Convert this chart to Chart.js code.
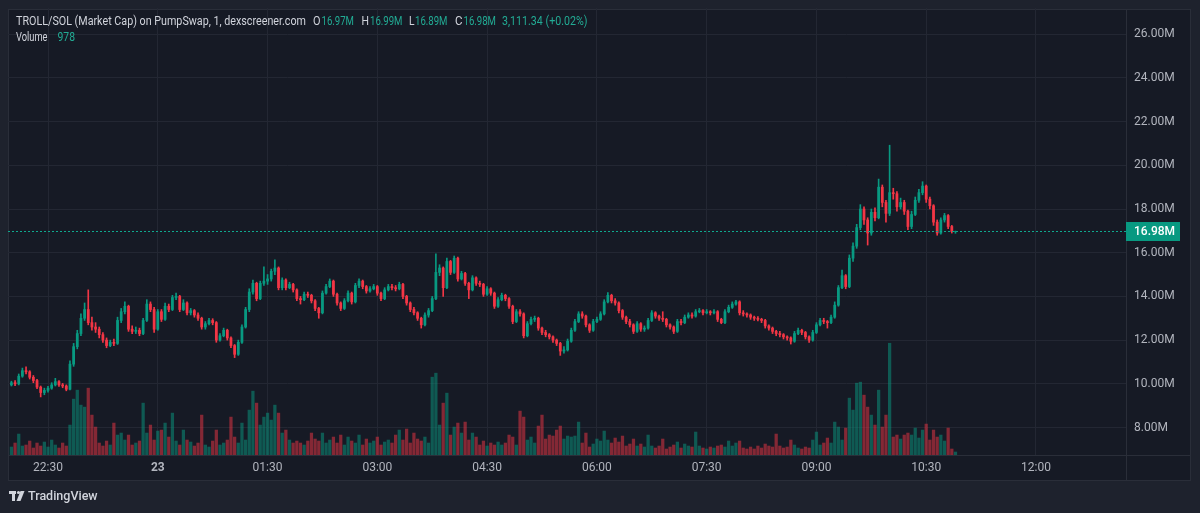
<!DOCTYPE html>
<html>
<head>
<meta charset="utf-8">
<script src="https://cdn.jsdelivr.net/npm/chart.js@4.4.1/dist/chart.umd.min.js"></script>
<style>
  html, body { margin: 0; padding: 0; background: #1e222d; }
  #wrap { width: 1200px; height: 513px; }
</style>
</head>
<body>
<div id="wrap"><canvas id="chart" width="1200" height="513"></canvas></div>
<script>
// TROLL/SOL market cap (millions), candles every 3 minutes from 22:00
const startMinute = 0;      // minutes after 22:00
const candleMinutes = 3;

const opens = [
  9.95, 10.05, 10.0, 10.35, 10.6, 10.55, 10.3, 10.15, 9.85, 9.6,
  9.7, 9.8, 9.95, 10.1, 9.95, 9.9, 9.75, 10.9, 11.7, 12.3,
  13.0, 13.4, 12.8, 12.6, 12.5, 12.25, 12.0, 11.75, 11.9, 11.85,
  12.9, 13.3, 13.55, 12.5, 12.4, 12.45, 12.3, 12.9, 13.65, 13.4,
  12.5, 13.3, 12.95, 13.55, 13.4, 13.95, 14.0, 13.4, 13.7, 13.25,
  13.35, 13.15, 13.0, 12.6, 12.75, 12.9, 12.8, 12.0, 12.2, 12.45,
  12.1, 11.75, 11.35, 11.9, 12.6, 13.4, 14.2, 14.6, 13.9, 14.6,
  14.7, 14.8, 15.15, 15.3, 14.4, 14.75, 14.4, 14.55, 14.3, 13.9,
  13.85, 14.1, 14.05, 13.8, 13.45, 13.25, 14.15, 14.45, 14.7, 14.1,
  13.7, 13.45, 13.8, 14.15, 13.75, 14.5, 14.7, 14.45, 14.25, 14.35,
  14.45, 14.15, 13.9, 14.3, 14.45, 14.4, 14.35, 14.55, 14.0, 13.7,
  13.4, 13.25, 13.0, 12.7, 13.15, 13.35, 13.9, 15.1, 15.3, 14.4,
  15.6, 15.1, 15.75, 14.8, 15.05, 14.6, 14.3, 14.85, 14.6, 14.55,
  14.1, 14.35, 14.15, 13.55, 13.85, 14.05, 13.9, 13.55, 12.85, 13.3,
  13.2, 12.2, 12.75, 12.95, 13.0, 12.55, 12.35, 12.25, 12.15, 12.0,
  11.85, 11.5, 11.55, 11.95, 12.45, 12.85, 13.2, 13.1, 12.7, 12.45,
  12.85, 12.95, 13.2, 13.75, 14.05, 13.8, 13.7, 13.35, 13.05, 12.85,
  12.7, 12.4, 12.75, 12.5, 12.55, 12.9, 13.25, 13.1, 13.0, 12.95,
  12.7, 12.6, 12.4, 12.85, 12.8, 13.05, 13.15, 13.1, 13.3, 13.35,
  13.25, 13.3, 13.25, 13.3, 12.95, 12.8, 13.3, 13.5, 13.65, 13.75,
  13.25, 13.2, 13.15, 13.05, 13.0, 12.95, 12.9, 12.65, 12.55, 12.4,
  12.3, 12.25, 12.15, 12.1, 11.95, 12.3, 12.45, 12.35, 12.15, 12.0,
  12.35, 12.7, 12.9, 12.85, 12.8, 13.05, 13.6, 14.4, 14.95, 14.45,
  15.75, 16.3, 17.15, 18.0, 17.5, 16.9, 17.85, 17.6, 19.0, 18.3,
  17.8, 18.75, 18.7, 18.1, 18.3, 17.9, 17.2, 17.75, 18.4, 18.75,
  19.05, 18.45, 18.15, 17.4, 16.9, 17.5, 17.7, 17.2, 16.97
];

const highs = [
  10.12, 10.15, 10.45, 10.72, 10.78, 10.6, 10.38, 10.2, 9.9, 9.8,
  9.88, 10.05, 10.25, 10.15, 10.02, 9.95, 11.05, 11.85, 12.45, 13.2,
  13.7, 14.3, 13.05, 12.8, 12.6, 12.35, 12.1, 12.0, 12.05, 13.05,
  13.45, 13.75, 13.6, 12.65, 12.6, 12.55, 13.0, 13.85, 13.75, 13.5,
  13.4, 13.4, 13.7, 13.65, 14.05, 14.15, 14.05, 13.85, 13.75, 13.45,
  13.4, 13.25, 13.05, 12.85, 13.0, 12.98, 12.85, 12.3, 12.55, 12.5,
  12.15, 11.8, 12.0, 12.7, 13.5, 14.35, 14.75, 14.65, 14.7, 15.35,
  15.0, 15.25, 15.67, 15.35, 14.85, 14.8, 14.65, 14.6, 14.35, 14.0,
  14.2, 14.2, 14.1, 13.85, 13.5, 14.25, 14.55, 14.8, 14.75, 14.15,
  13.75, 13.9, 14.25, 14.2, 14.6, 14.8, 14.75, 14.5, 14.45, 14.55,
  14.5, 14.2, 14.4, 14.55, 14.55, 14.5, 14.65, 14.6, 14.05, 13.75,
  13.5, 13.3, 13.05, 13.25, 13.45, 14.0, 15.95, 15.45, 15.35, 15.75,
  15.65, 15.85, 15.8, 15.15, 15.1, 14.65, 14.95, 14.9, 14.7, 14.6,
  14.45, 14.4, 14.2, 13.95, 14.15, 14.1, 13.95, 13.6, 13.4, 13.4,
  13.25, 12.85, 13.05, 13.1, 13.05, 12.6, 12.45, 12.3, 12.2, 12.05,
  11.9, 11.7, 12.05, 12.55, 12.95, 13.3, 13.3, 13.15, 12.75, 12.95,
  13.05, 13.3, 13.85, 14.17, 14.1, 13.9, 13.75, 13.4, 13.1, 12.95,
  12.75, 12.85, 12.8, 12.65, 13.0, 13.35, 13.3, 13.15, 13.3, 13.0,
  12.75, 12.65, 12.95, 12.95, 13.15, 13.25, 13.25, 13.4, 13.45, 13.4,
  13.4, 13.35, 13.4, 13.35, 13.0, 13.4, 13.6, 13.75, 13.82, 13.8,
  13.35, 13.25, 13.2, 13.1, 13.08, 13.0, 12.95, 12.7, 12.6, 12.45,
  12.4, 12.3, 12.2, 12.15, 12.4, 12.55, 12.5, 12.4, 12.2, 12.45,
  12.8, 13.0, 13.0, 12.9, 13.15, 13.75, 14.5, 15.2, 15.0, 15.9,
  16.45, 17.3, 18.2, 18.1, 17.6, 18.0, 18.05, 19.37, 19.1, 18.4,
  20.92, 18.95, 18.8, 18.5, 18.4, 17.95, 17.9, 18.55, 18.9, 19.25,
  19.1, 18.55, 18.2, 17.5, 17.6, 17.8, 17.75, 17.25, 16.99
];

const lows = [
  9.9, 9.92, 9.95, 10.3, 10.45, 10.22, 10.05, 9.78, 9.4, 9.5,
  9.62, 9.75, 9.9, 9.88, 9.82, 9.68, 9.72, 10.8, 11.6, 12.2,
  12.9, 12.7, 12.45, 12.35, 12.1, 11.9, 11.65, 11.7, 11.75, 11.8,
  12.8, 13.2, 12.4, 12.3, 12.3, 12.2, 12.25, 12.85, 13.3, 12.35,
  12.45, 12.85, 12.9, 13.3, 13.35, 13.85, 13.3, 13.35, 13.15, 13.15,
  13.05, 12.9, 12.5, 12.5, 12.7, 12.7, 11.9, 11.95, 12.15, 12.0,
  11.65, 11.2, 11.3, 11.85, 12.55, 13.3, 14.1, 13.8, 13.85, 14.5,
  14.55, 14.7, 15.0, 14.3, 14.3, 14.3, 14.35, 14.2, 13.8, 13.65,
  13.8, 13.95, 13.7, 13.35, 13.0, 13.2, 14.1, 14.4, 14.0, 13.6,
  13.35, 13.4, 13.75, 13.65, 13.7, 14.4, 14.35, 14.15, 14.2, 14.3,
  14.05, 13.8, 13.85, 14.25, 14.3, 14.25, 14.3, 13.9, 13.6, 13.3,
  13.15, 12.9, 12.55, 12.65, 13.05, 13.3, 13.85, 14.95, 14.0, 14.35,
  15.0, 15.05, 14.7, 14.75, 14.5, 13.9, 14.25, 14.5, 14.45, 14.0,
  14.05, 14.05, 13.45, 13.5, 13.8, 13.8, 13.45, 12.75, 12.8, 13.1,
  12.1, 12.15, 12.7, 12.85, 12.45, 12.25, 12.15, 12.05, 11.9, 11.75,
  11.3, 11.4, 11.5, 11.9, 12.4, 12.8, 13.0, 12.6, 12.35, 12.4,
  12.8, 12.9, 13.15, 13.7, 13.7, 13.6, 13.25, 12.95, 12.75, 12.6,
  12.3, 12.35, 12.4, 12.4, 12.5, 12.85, 13.0, 12.9, 12.85, 12.6,
  12.5, 12.3, 12.35, 12.7, 12.75, 13.0, 13.0, 13.05, 13.25, 13.15,
  13.2, 13.15, 13.2, 12.85, 12.75, 12.75, 13.25, 13.45, 13.6, 13.15,
  13.1, 13.05, 12.95, 12.9, 12.88, 12.8, 12.55, 12.45, 12.3, 12.2,
  12.15, 12.05, 12.0, 11.82, 11.9, 12.25, 12.25, 12.05, 11.9, 11.95,
  12.3, 12.65, 12.75, 12.55, 12.75, 13.0, 13.55, 14.35, 14.35, 14.4,
  15.6, 16.2, 17.05, 17.3, 16.35, 16.8, 17.45, 17.55, 18.1, 17.4,
  17.7, 18.45, 17.9, 18.0, 17.75, 17.05, 17.1, 17.7, 18.3, 18.65,
  18.3, 18.0, 17.25, 16.8, 16.85, 17.4, 17.1, 16.9, 16.89
];

const closes = [
  10.05, 10.0, 10.35, 10.6, 10.55, 10.3, 10.15, 9.85, 9.6, 9.7,
  9.8, 9.95, 10.1, 9.95, 9.9, 9.75, 10.9, 11.7, 12.3, 13.0,
  13.4, 12.8, 12.6, 12.5, 12.25, 12.0, 11.75, 11.9, 11.85, 12.9,
  13.3, 13.55, 12.5, 12.4, 12.45, 12.3, 12.9, 13.65, 13.4, 12.5,
  13.3, 12.95, 13.55, 13.4, 13.95, 14.0, 13.4, 13.7, 13.25, 13.35,
  13.15, 13.0, 12.6, 12.75, 12.9, 12.8, 12.0, 12.2, 12.45, 12.1,
  11.75, 11.35, 11.9, 12.6, 13.4, 14.2, 14.6, 13.9, 14.6, 14.7,
  14.8, 15.15, 15.3, 14.4, 14.75, 14.4, 14.55, 14.3, 13.9, 13.85,
  14.1, 14.05, 13.8, 13.45, 13.25, 14.15, 14.45, 14.7, 14.1, 13.7,
  13.45, 13.8, 14.15, 13.75, 14.5, 14.7, 14.45, 14.25, 14.35, 14.45,
  14.15, 13.9, 14.3, 14.45, 14.4, 14.35, 14.55, 14.0, 13.7, 13.4,
  13.25, 13.0, 12.7, 13.15, 13.35, 13.9, 15.1, 15.3, 14.4, 15.6,
  15.1, 15.75, 14.8, 15.05, 14.6, 14.3, 14.85, 14.6, 14.55, 14.1,
  14.35, 14.15, 13.55, 13.85, 14.05, 13.9, 13.55, 12.85, 13.3, 13.2,
  12.2, 12.75, 12.95, 13.0, 12.55, 12.35, 12.25, 12.15, 12.0, 11.85,
  11.5, 11.55, 11.95, 12.45, 12.85, 13.2, 13.1, 12.7, 12.45, 12.85,
  12.95, 13.2, 13.75, 14.05, 13.8, 13.7, 13.35, 13.05, 12.85, 12.7,
  12.4, 12.75, 12.5, 12.55, 12.9, 13.25, 13.1, 13.0, 12.95, 12.7,
  12.6, 12.4, 12.85, 12.8, 13.05, 13.15, 13.1, 13.3, 13.35, 13.25,
  13.3, 13.25, 13.3, 12.95, 12.8, 13.3, 13.5, 13.65, 13.75, 13.25,
  13.2, 13.15, 13.05, 13.0, 12.95, 12.9, 12.65, 12.55, 12.4, 12.3,
  12.25, 12.15, 12.1, 11.95, 12.3, 12.45, 12.35, 12.15, 12.0, 12.35,
  12.7, 12.9, 12.85, 12.8, 13.05, 13.6, 14.4, 14.95, 14.45, 15.75,
  16.3, 17.15, 18.0, 17.5, 16.9, 17.85, 17.6, 19.0, 18.3, 17.8,
  18.75, 18.7, 18.1, 18.3, 17.9, 17.2, 17.75, 18.4, 18.75, 19.05,
  18.45, 18.15, 17.4, 16.9, 17.5, 17.7, 17.2, 16.97, 16.98
];

// volume per candle, thousands
const volumes = [
  4, 6, 10.5, 4.5, 5, 7, 3.5, 6, 4.5, 6.5, 4, 7.5, 5, 3.5, 6, 4.5,
  15, 28, 32.5, 25, 24, 33.5, 20, 14,
  6, 4.5, 7, 5, 16, 10, 11, 7.5, 10, 5, 6, 7,
  26, 11, 15, 7.5, 12, 12.5, 16, 9, 21, 7, 5, 12.5,
  7.5, 6.5, 4.5, 6, 20, 5, 4, 7, 12.5, 5, 6, 7.5,
  19, 9, 6, 16, 7.5, 22.5, 32, 26, 15, 19, 21, 17.5, 25, 21,
  11, 12.5, 7.5, 6, 7, 6, 5, 7, 11, 8, 7, 11, 6, 7.5,
  9, 6, 10, 5, 9, 7, 6, 10, 5, 8, 6, 7, 9, 5,
  6.5, 7.5, 6, 10, 12.5, 7.5, 13, 6, 11, 8, 7, 9, 6,
  39, 41, 15, 26, 31, 10, 14, 16, 11, 16.5, 7.5, 11, 9,
  5, 7, 4.5, 6, 5, 6.5, 5, 6, 10, 9, 5, 22, 19,
  7.5, 9, 6, 14.5, 20, 8, 10, 9.5, 12.5, 14.5, 8, 9.5, 9, 9.5, 16.5,
  6, 11, 4, 5.5, 8, 7, 12, 7.5, 6, 8.5, 6.5, 9.5, 4.5, 5.5, 8,
  4.5, 5.5, 4, 10, 4.5, 3.5, 4.5, 8, 3, 4, 5, 6.5, 3.5, 5.5, 4.5,
  4, 11.5, 4.5, 3.5, 3, 4, 3.5, 4.5, 5, 4, 7, 4.5, 6, 7, 3.5,
  3, 4, 3, 4.5, 3.5, 5.5, 4.5, 4, 10.5, 4.5, 3.5, 4, 7.5, 5, 3.5,
  3, 4, 3.5, 7.5, 11.5, 5, 6, 8.5, 6, 16.5, 14, 7.5, 13.5, 28.5, 22.5,
  36, 36.5, 30, 24, 20, 15, 32.5, 14, 20, 56, 9, 10, 8, 10, 11,
  10, 13.5, 8.5, 12.5, 15.5, 7.5, 12.5, 9, 10, 7, 13.5, 3, 1.5
];

const tickMinutes = [30, 120, 210, 300, 390, 480, 570, 660, 750, 840];
const timeLabels = ["22:30", "23", "01:30", "03:00", "04:30", "06:00", "07:30", "09:00", "10:30", "12:00"];

const title = "TROLL/SOL (Market Cap) on PumpSwap, 1, dexscreener.com";
const changeText = "3,111.34 (+0.02%)";
const lastVolume = "978";

const UP = "#089981";
const DOWN = "#f23645";
const UP_VOL = "rgba(8,153,129,0.5)";
const DOWN_VOL = "rgba(242,54,69,0.5)";
const TEXT = "#d1d4dc";
const AXIS_TEXT = "#b2b5be";
const GRID = "#232733";
const FONT = 'Roboto, "Noto Sans", sans-serif';

Chart.defaults.font.family = FONT;
Chart.defaults.font.size = 12;

const n = Math.min(opens.length, highs.length, lows.length, closes.length, volumes.length);
const xs = [];
for (let i = 0; i < n; i++) xs.push(startMinute + i * candleMinutes);
const up = xs.map((x, i) => closes[i] >= opens[i]);

const fmt = v => v.toFixed(2) + "M";

// header text is a narrow face in the original, squeeze roboto to fit
function squeezed(ctx, text, x, y, w) {
  ctx.fillText(text, x, y, w);
}

const frame = {
  id: "frame",
  beforeDraw(chart) {
    const ctx = chart.ctx;
    ctx.save();
    ctx.fillStyle = "#1e222d";
    ctx.fillRect(0, 0, chart.width, chart.height);
    ctx.fillStyle = "#161a25";
    ctx.fillRect(8, 9, 1183, 472);
    ctx.strokeStyle = "#2a2e39";
    ctx.lineWidth = 1;
    ctx.strokeRect(8.5, 9.5, 1182, 471);
    const a = chart.chartArea;
    ctx.beginPath();
    ctx.moveTo(a.right + 0.5, 9);
    ctx.lineTo(a.right + 0.5, 481);
    ctx.moveTo(8, a.bottom + 0.5);
    ctx.lineTo(1191, a.bottom + 0.5);
    ctx.stroke();
    ctx.restore();
  },
  afterDatasetsDraw(chart) {
    const ctx = chart.ctx;
    const a = chart.chartArea;
    const last = closes[n - 1];
    const y = Math.round(chart.scales.y.getPixelForValue(last)) + 0.5;
    ctx.save();
    ctx.strokeStyle = "#0fa88e";
    ctx.lineWidth = 1;
    ctx.setLineDash([2, 2]);
    ctx.beginPath();
    ctx.moveTo(a.left, y);
    ctx.lineTo(a.right, y);
    ctx.stroke();
    ctx.setLineDash([]);
    ctx.fillStyle = UP;
    ctx.fillRect(a.right, y - 9.5, 54, 19);
    ctx.fillStyle = "#ffffff";
    ctx.font = "500 12px " + FONT;
    ctx.textBaseline = "middle";
    ctx.fillText(fmt(last), a.right + 8, y + 0.5);
    ctx.restore();
  },
  afterDraw(chart) {
    const ctx = chart.ctx;
    ctx.save();
    ctx.textBaseline = "middle";
    ctx.font = "12px " + FONT;
    // legend line
    ctx.fillStyle = TEXT;
    squeezed(ctx, title, 16, 21.5, 290);
    const stats = [["O", opens[n - 1], 313], ["H", highs[n - 1], 361.5], ["L", lows[n - 1], 409], ["C", closes[n - 1], 455]];
    stats.forEach(([k, v, x]) => {
      ctx.fillStyle = TEXT;
      squeezed(ctx, k, x, 21.5, k === "L" ? 5.5 : 7.5);
      ctx.fillStyle = "#22ab94";
      squeezed(ctx, fmt(v), x + (k === "L" ? 6 : 8.5), 21.5, 32.5);
    });
    ctx.fillStyle = "#22ab94";
    squeezed(ctx, changeText, 502, 21.5, 85.5);
    ctx.fillStyle = TEXT;
    squeezed(ctx, "Volume", 16, 37.5, 31.5);
    ctx.fillStyle = "#22ab94";
    squeezed(ctx, lastVolume, 57.5, 37.5, 17.5);

    // TradingView mark
    ctx.fillStyle = TEXT;
    ctx.fillRect(9, 491, 7, 3);
    ctx.fillRect(12, 491, 3, 10);
    ctx.beginPath();
    ctx.arc(18.5, 492.5, 1.6, 0, Math.PI * 2);
    ctx.fill();
    ctx.beginPath();
    ctx.moveTo(20.5, 491);
    ctx.lineTo(24.5, 491);
    ctx.lineTo(20.5, 501);
    ctx.lineTo(16.5, 501);
    ctx.closePath();
    ctx.fill();
    ctx.font = "500 12.5px " + FONT;
    ctx.fillText("TradingView", 28, 496.5);
    ctx.restore();
  }
};

new Chart(document.getElementById("chart"), {
  type: "bar",
  data: {
    datasets: [
      {
        label: "Volume",
        yAxisID: "vol",
        data: xs.map((x, i) => ({ x, y: volumes[i] })),
        backgroundColor: up.map(u => (u ? UP_VOL : DOWN_VOL)),
        barThickness: 2.6,
        grouped: false,
        order: 3
      },
      {
        label: "Wick",
        yAxisID: "y",
        data: xs.map((x, i) => ({ x, y: [lows[i], highs[i]] })),
        backgroundColor: up.map(u => (u ? UP : DOWN)),
        barThickness: 1,
        grouped: false,
        order: 2
      },
      {
        label: "Body",
        yAxisID: "y",
        data: xs.map((x, i) => ({ x, y: [opens[i], closes[i]] })),
        backgroundColor: up.map(u => (u ? UP : DOWN)),
        barThickness: 2.1,
        grouped: false,
        order: 1
      }
    ]
  },
  options: {
    responsive: false,
    animation: false,
    devicePixelRatio: 1,
    layout: { padding: { left: 8, top: 8, right: 9, bottom: 32 } },
    plugins: { legend: { display: false }, tooltip: { enabled: false } },
    scales: {
      x: {
        type: "linear",
        offset: false,
        min: -2.8,
        max: 913.8,
        afterBuildTicks: s => { s.ticks = tickMinutes.map(v => ({ value: v })); },
        afterFit: s => { s.height = 26; s.paddingLeft = 0; s.paddingRight = 0; },
        grid: { color: GRID, drawTicks: false, offset: false },
        border: { display: false },
        ticks: {
          color: AXIS_TEXT,
          padding: 6,
          autoSkip: false,
          maxRotation: 0,
          font: ctx => ({ family: FONT, size: 12, weight: ctx.index === 1 ? "bold" : "normal" }),
          callback: (v, i) => timeLabels[i]
        }
      },
      y: {
        type: "linear",
        position: "right",
        min: 6.742,
        max: 27.2,
        afterFit: s => { s.width = 65; s.paddingTop = 0; s.paddingBottom = 0; },
        grid: { color: GRID, drawTicks: false },
        border: { display: false },
        ticks: {
          color: AXIS_TEXT,
          padding: 8,
          stepSize: 2,
          includeBounds: false,
          callback: v => fmt(v)
        }
      },
      vol: {
        type: "linear",
        display: false,
        min: 0,
        max: 224,
        grid: { display: false }
      }
    }
  },
  plugins: [frame]
});
</script>
</body>
</html>
